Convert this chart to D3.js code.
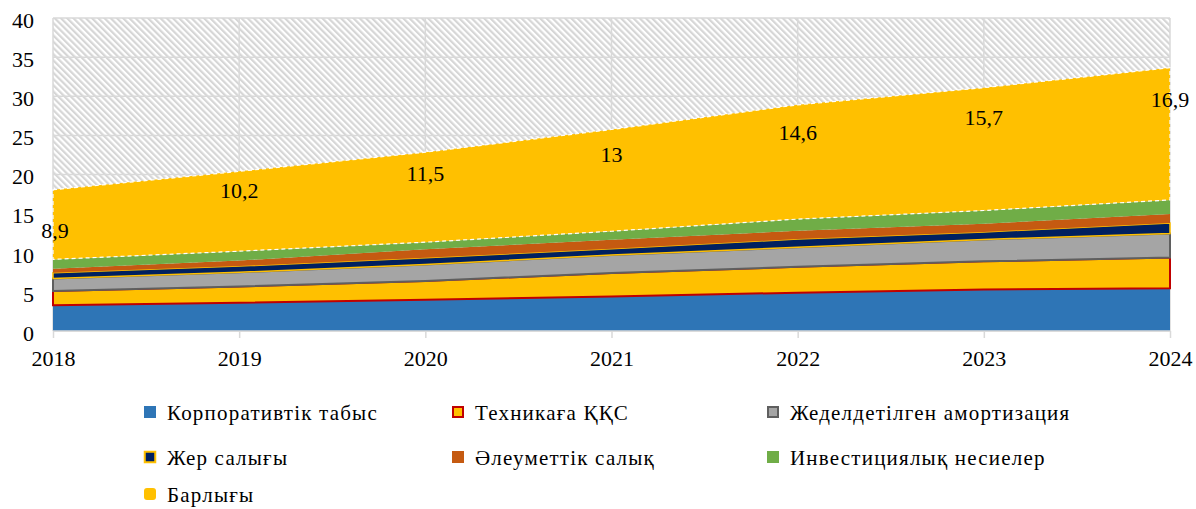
<!DOCTYPE html>
<html>
<head>
<meta charset="utf-8">
<script src="https://cdnjs.cloudflare.com/ajax/libs/d3/7.8.5/d3.min.js"></script>
<style>
  body { margin: 0; background: #fff; }
  svg text { font-family: "Times New Roman", "Liberation Serif", "Noto Serif", "DejaVu Serif", Times, serif; fill: #000; }
</style>
</head>
<body>
<div id="chart"></div>
<script>
// Data
var years = [2018, 2019, 2020, 2021, 2022, 2023, 2024];
var corporate = [3.3, 3.6, 4.0, 4.4, 4.9, 5.3, 5.45];
var vatTech = [1.8, 2.1, 2.4, 3.0, 3.3, 3.6, 3.95];
var amortization = [1.6, 1.8, 2.1, 2.3, 2.5, 2.8, 3.05];
var landTax = [0.75, 0.8, 0.85, 0.8, 1.05, 0.95, 1.35];
var socialTax = [0.5, 0.7, 1.1, 1.15, 1.05, 1.05, 1.15];
var investCredit = [1.2, 1.2, 0.9, 1.1, 1.5, 1.7, 1.8];
var total = [8.9, 10.2, 11.5, 13, 14.6, 15.7, 16.9];
var totalLabels = ["8,9", "10,2", "11,5", "13", "14,6", "15,7", "16,9"];
var yTicks = [0, 5, 10, 15, 20, 25, 30, 35, 40];

var seriesNames = ["Корпоративтік табыс", "Техникаға ҚҚС", "Жеделдетілген амортизация",
    "Жер салығы", "Әлеуметтік салық", "Инвестициялық несиелер", "Барлығы"];
var seriesValues = [corporate, vatTech, amortization, landTax, socialTax, investCredit, total];

var svgWidth = 1196;
var svgHeight = 509;

var margin = {
    top: 18,
    right: 26,
    bottom: 178,
    left: 53
};

var width = svgWidth - margin.left - margin.right;
var height = svgHeight - margin.top - margin.bottom;

// series styles
var styles = [
    { fill: "#2E75B6", stroke: "none", sw: 0 },
    { fill: "#FFC000", stroke: "#C00000", sw: 2 },
    { fill: "#A5A5A5", stroke: "#5F5F5F", sw: 2 },
    { fill: "#002060", stroke: "#FFC000", sw: 1.5 },
    { fill: "#C55A11", stroke: "none", sw: 0 },
    { fill: "#70AD47", stroke: "none", sw: 0 },
    { fill: "#FFC000", stroke: "#ffffff", sw: 1.2, dash: "4,3" }
];

var svg = d3.select("#chart")
    .append("svg")
    .attr("width", svgWidth)
    .attr("height", svgHeight);

// hatch pattern for plot background
var pattern = svg.append("defs").append("pattern")
    .attr("id", "hatch")
    .attr("patternUnits", "userSpaceOnUse")
    .attr("width", 4.4)
    .attr("height", 4.4)
    .attr("patternTransform", "rotate(-45)");
pattern.append("rect")
    .attr("width", 4.4)
    .attr("height", 4.4)
    .attr("fill", "#ffffff");
pattern.append("line")
    .attr("x1", 1.1).attr("y1", 0)
    .attr("x2", 1.1).attr("y2", 4.4)
    .attr("stroke", "#D6D6D6")
    .attr("stroke-width", 2.2);

var chartGroup = svg.append("g")
    .attr("transform", `translate(${margin.left}, ${margin.top})`);

// Scales
var xScale = d3.scaleLinear()
    .domain([years[0], years[years.length - 1]])
    .range([0, width]);

var yScale = d3.scaleLinear()
    .domain([0, 40])
    .range([height, 0]);

// Plot background
chartGroup.append("rect")
    .attr("width", width)
    .attr("height", height)
    .attr("fill", "url(#hatch)");

// Gridlines
chartGroup.append("g")
    .selectAll("line.h")
    .data(yTicks)
    .enter()
    .append("line")
    .attr("x1", 0)
    .attr("x2", width)
    .attr("y1", d => yScale(d))
    .attr("y2", d => yScale(d))
    .attr("stroke", "#D9D9D9")
    .attr("stroke-width", 1.5);

chartGroup.append("g")
    .selectAll("line.v")
    .data(years)
    .enter()
    .append("line")
    .attr("x1", d => xScale(d))
    .attr("x2", d => xScale(d))
    .attr("y1", 0)
    .attr("y2", height)
    .attr("stroke", "#D9D9D9")
    .attr("stroke-width", 1.5);

// Stack the data
var table = years.map(function(yr, i) {
    var row = { year: yr };
    seriesNames.forEach(function(name, j) {
        row[name] = seriesValues[j][i];
    });
    return row;
});

var stacked = d3.stack().keys(seriesNames)(table);

var area = d3.area()
    .x(d => xScale(d.data.year))
    .y0(d => yScale(d[0]))
    .y1(d => yScale(d[1]));

chartGroup.append("g")
    .selectAll("path")
    .data(stacked)
    .enter()
    .append("path")
    .attr("d", area)
    .attr("fill", (d, i) => styles[i].fill)
    .attr("stroke", (d, i) => styles[i].stroke)
    .attr("stroke-width", (d, i) => styles[i].sw)
    .attr("stroke-dasharray", (d, i) => styles[i].dash || null)
    .attr("stroke-linejoin", "miter");

// X axis line and ticks
chartGroup.append("line")
    .attr("x1", 0)
    .attr("x2", width)
    .attr("y1", height)
    .attr("y2", height)
    .attr("stroke", "#D9D9D9")
    .attr("stroke-width", 1.5);

var xAxis = chartGroup.append("g")
    .attr("transform", `translate(0, ${height})`)
    .call(d3.axisBottom(xScale)
        .tickValues(years)
        .tickFormat(d3.format("d"))
        .tickSize(7)
        .tickPadding(12));
xAxis.attr("font-family", null);
xAxis.select(".domain").remove();
xAxis.selectAll(".tick line").attr("stroke", "#D9D9D9").attr("stroke-width", 1.5);
xAxis.selectAll("text")
    .style("font-size", "22px");

// Y axis
var yAxis = chartGroup.append("g")
    .call(d3.axisLeft(yScale)
        .tickValues(yTicks)
        .tickSize(0)
        .tickPadding(19));
yAxis.attr("font-family", null);
yAxis.select(".domain").remove();
yAxis.selectAll("text")
    .attr("dy", "0.42em")
    .style("font-size", "22px");

// Data labels for total
var topSeries = stacked[stacked.length - 1];
chartGroup.append("g")
    .selectAll("text")
    .data(topSeries)
    .enter()
    .append("text")
    .attr("x", (d, i) => xScale(d.data.year) + (i === 0 ? 2 : 0))
    .attr("y", (d, i) => yScale(d[0] + (d[1] - d[0]) * (i === 0 ? 0.42 : 0.76)))
    .attr("dy", "0.35em")
    .attr("text-anchor", "middle")
    .style("font-size", "22px")
    .text((d, i) => totalLabels[i]);

// Legend
var legendCols = [150, 458, 773];
var legendRows = [413, 458, 495];
var legend = svg.append("g");

seriesNames.forEach(function(name, i) {
    var cx = legendCols[i % 3];
    var cy = legendRows[Math.floor(i / 3)];
    var st = styles[i];
    var g = legend.append("g").attr("transform", `translate(${cx}, ${cy})`);
    if (i === 6) {
        g.append("rect")
            .attr("x", -6).attr("y", -7)
            .attr("width", 12).attr("height", 12)
            .attr("rx", 3)
            .attr("fill", st.fill);
    } else {
        var inset = st.sw ? st.sw / 2 : 0;
        g.append("rect")
            .attr("x", -6 + inset).attr("y", -7 + inset)
            .attr("width", 12 - 2 * inset).attr("height", 12 - 2 * inset)
            .attr("fill", st.fill)
            .attr("stroke", st.stroke)
            .attr("stroke-width", st.sw ? 2 : 0);
    }
    g.append("text")
        .attr("x", 17)
        .attr("y", 0)
        .attr("dy", "0.35em")
        .style("font-size", "21px")
        .style("letter-spacing", "1.2px")
        .text(name);
});
</script>
</body>
</html>
